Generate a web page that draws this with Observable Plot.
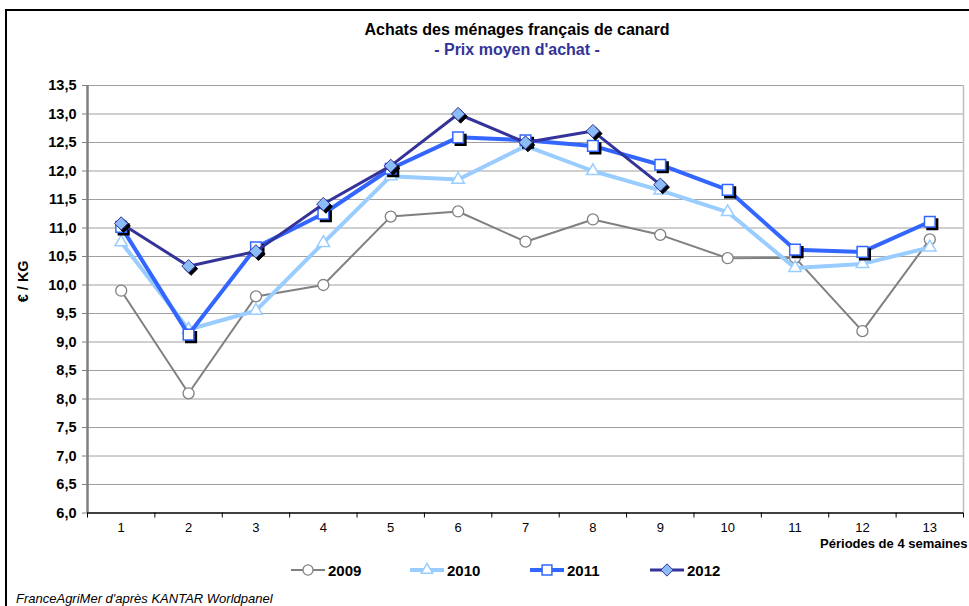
<!DOCTYPE html>
<html>
<head>
<meta charset="utf-8">
<script src="https://cdn.jsdelivr.net/npm/d3@7"></script>
<script src="https://cdn.jsdelivr.net/npm/@observablehq/plot@0.6"></script>
<style>
  html, body { margin: 0; padding: 0; background: #fff; }
  body { font-family: "Liberation Sans", Arial, sans-serif; }
  #wrap { position: relative; width: 969px; height: 606px; overflow: hidden; }
  #frame { position: absolute; left: 5px; top: 9px; width: 980px; height: 620px;
           border-left: 2px solid #000; border-top: 2px solid #000; }
  .title { position: absolute; left: 0; width: 1034px; text-align: center; font-weight: bold; }
  #t1 { top: 21px; font-size: 16px; color: #000; }
  #t2 { top: 41px; font-size: 16px; color: #333399; }
  #chart { position: absolute; left: 0; top: 70px; }
  .leg { position: absolute; top: 561px; height: 18px; display: flex; align-items: center;
         font-weight: bold; font-size: 15px; color: #000; }
  .leg svg { margin-right: 3px; }
  #caption { position: absolute; left: 16px; top: 591px; font-size: 13px; font-style: italic; color: #000; }
</style>
</head>
<body>
<div id="wrap">
  <div id="frame"></div>
  <div class="title" id="t1">Achats des ménages français de canard</div>
  <div class="title" id="t2">- Prix moyen d'achat -</div>
  <div id="chart"></div>
  <div id="legend"></div>
  <div id="caption">FranceAgriMer d'après KANTAR Worldpanel</div>
</div>
<script>
// ---- data ----
const periods = [1, 2, 3, 4, 5, 6, 7, 8, 9, 10, 11, 12, 13];
const years = ["2009", "2010", "2011", "2012"];
const prix2009 = [9.90, 8.10, 9.80, 10.00, 11.20, 11.29, 10.76, 11.15, 10.88, 10.47, 10.48, 9.19, 10.80];
const prix2010 = [10.75, 9.22, 9.55, 10.74, 11.91, 11.85, 12.44, 12.00, 11.66, 11.28, 10.30, 10.37, 10.66];
const prix2011 = [11.02, 9.13, 10.66, 11.25, 12.04, 12.59, 12.54, 12.44, 12.11, 11.67, 10.62, 10.58, 11.11];
const prix2012 = [11.08, 10.33, 10.59, 11.42, 12.09, 13.00, 12.50, 12.70, 11.76];
const yTicks = [6.0, 6.5, 7.0, 7.5, 8.0, 8.5, 9.0, 9.5, 10.0, 10.5, 11.0, 11.5, 12.0, 12.5, 13.0, 13.5];
const yLabel = "€ / KG";
const xLabel = "Périodes de 4 semaines";

const rows = (vals, year) => vals.map((v, i) => ({period: periods[i], value: v, year}));
const d2009 = rows(prix2009, "2009");
const d2010 = rows(prix2010, "2010");
const d2011 = rows(prix2011, "2011");
const d2012 = rows(prix2012, "2012");

const styles = {
  "2009": {line: "#808080", lw: 2, symbol: "circle", r: 5.5, fill: "#fff", stroke: "#808080", sw: 1.3, shadow: false},
  "2010": {line: "#99CCFF", lw: 4, symbol: "triangle", r: 4.6, fill: "#fff", stroke: "#99CCFF", sw: 1.5, shadow: false},
  "2011": {line: "#3366FF", lw: 4, symbol: "square", r: 6, fill: "#fff", stroke: "#3366FF", sw: 1.5, shadow: true},
  "2012": {line: "#333399", lw: 3, symbol: "diamond2", r: 6, fill: "#8CBCF5", stroke: "#333399", sw: 1, shadow: true}
};

const boundaries = [...periods.map(p => p - 0.5), periods[periods.length - 1] + 0.5];
const fmt = v => d3.format(".1f")(v).replace(".", ",");

function series(data, year) {
  const s = styles[year];
  const marks = [Plot.line(data, {x: "period", y: "value", stroke: s.line, strokeWidth: s.lw, strokeLinejoin: "miter"})];
  if (s.shadow) marks.push(Plot.dot(data, {x: "period", y: "value", symbol: s.symbol, r: s.r, fill: "#000", stroke: "#000", strokeWidth: s.sw, dx: 2.5, dy: 2.5}));
  marks.push(Plot.dot(data, {x: "period", y: "value", symbol: s.symbol, r: s.r, fill: s.fill, stroke: s.stroke, strokeWidth: s.sw}));
  return marks;
}

const chart = Plot.plot({
  width: 969,
  height: 490,
  marginLeft: 87,
  marginRight: 6,
  marginTop: 15,
  marginBottom: 47.5,
  style: {fontFamily: "'Liberation Sans', Arial, sans-serif", background: "transparent", overflow: "visible"},
  x: {domain: [boundaries[0], boundaries[boundaries.length - 1]]},
  y: {domain: [yTicks[0], yTicks[yTicks.length - 1]]},
  marks: [
    Plot.ruleY(yTicks.slice(1), {stroke: "#a0a0a0", strokeWidth: 1}),
    Plot.ruleX([boundaries[boundaries.length - 1]], {stroke: "#c0c0c0", strokeWidth: 1.5}),
    Plot.axisY({ticks: yTicks, tickFormat: fmt, tickSize: 5, tickPadding: 6, stroke: "#808080", fill: "#000",
                fontSize: 14.5, fontWeight: "bold", label: null}),
    Plot.axisX({ticks: boundaries, tickFormat: () => "", tickSize: 5, stroke: "#000", label: null}),
    Plot.axisX({ticks: periods, tickFormat: d => String(d), tickSize: 0, tickPadding: 10, fill: "#000", fontSize: 13, label: null}),
    Plot.ruleX([boundaries[0]], {stroke: "#808080", strokeWidth: 2.5}),
    Plot.ruleY([yTicks[0]], {stroke: "#000", strokeWidth: 1.5}),
    ...series(d2009, "2009"),
    ...series(d2010, "2010"),
    ...series(d2011, "2011"),
    ...series(d2012, "2012"),
    Plot.text([yLabel], {frameAnchor: "left", dx: -64, dy: 3, rotate: -90, fontSize: 14.5, fontWeight: "bold", fill: "#000"}),
    Plot.text([xLabel], {frameAnchor: "bottom-right", dx: 4, dy: 35, textAnchor: "end", fontSize: 13, fontWeight: "bold", fill: "#000"})
  ]
});
document.getElementById("chart").appendChild(chart);

// ---- legend ----
const legendPos = {"2009": 291, "2010": 410, "2011": 530, "2012": 650};
const legend = document.getElementById("legend");
for (const y of years) {
  const s = styles[y];
  const item = document.createElement("div");
  item.className = "leg";
  item.style.left = legendPos[y] + "px";
  const sw = d3.create("svg").attr("width", 34).attr("height", 16);
  sw.append("line").attr("x1", 0).attr("x2", 34).attr("y1", 8).attr("y2", 8)
    .attr("stroke", s.line).attr("stroke-width", s.lw);
  const sym = {circle: d3.symbolCircle, triangle: d3.symbolTriangle, square: d3.symbolSquare, diamond2: d3.symbolDiamond2}[s.symbol];
  sw.append("path").attr("d", d3.symbol(sym, Math.PI * s.r * s.r * 0.85)())
    .attr("transform", "translate(17,8)").attr("fill", s.fill).attr("stroke", s.stroke).attr("stroke-width", s.sw);
  item.appendChild(sw.node());
  const t = document.createElement("span");
  t.textContent = y;
  item.appendChild(t);
  legend.appendChild(item);
}
</script>
</body>
</html>
